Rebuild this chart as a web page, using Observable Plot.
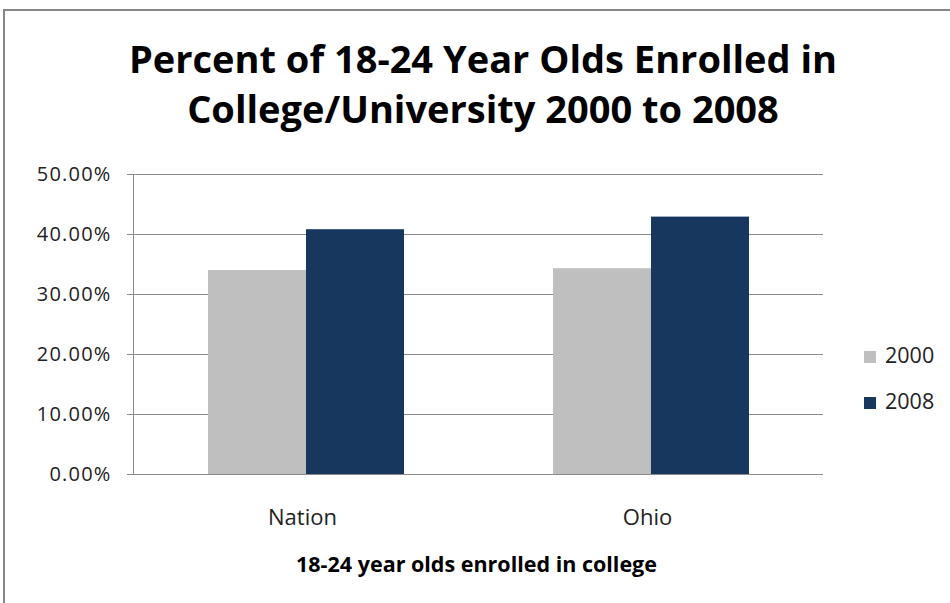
<!DOCTYPE html>
<html>
<head>
<meta charset="utf-8">
<script src="https://cdn.jsdelivr.net/npm/d3@7"></script>
<script src="https://cdn.jsdelivr.net/npm/@observablehq/plot@0.6"></script>
<style>
  html, body { margin: 0; padding: 0; background: #fff; }
  #wrap { position: relative; width: 950px; height: 603px; overflow: hidden; font-family: "Open Sans", Lato, sans-serif; }
  #border { position: absolute; left: 3px; top: 9px; width: 1000px; height: 700px; border: 2px solid #878787; box-sizing: border-box; }
  #title { position: absolute; left: 0; width: 966px; top: 33px; text-align: center; font-weight: bold; font-size: 38px; line-height: 50px; color: #000; }
  #chart { position: absolute; left: 0; top: 0; }
  .leg { position: absolute; left: 864px; font-size: 21.5px; color: #222; line-height: 22px; white-space: nowrap; }
  .leg span.sw { display: inline-block; width: 12px; height: 12px; margin-right: 9px; vertical-align: 0px; }
</style>
</head>
<body>
<div id="wrap">
  <div id="border"></div>
  <div id="chart"></div>
  <div id="title">Percent of 18-24 Year Olds Enrolled in<br>College/University 2000 to 2008</div>
  <div id="legend"></div>
</div>
<script>
const regions = ["Nation", "Ohio"];
const years = ["2000", "2008"];
const values2000 = [0.340, 0.343];
const values2008 = [0.408, 0.429];
const yTicks = [0, 0.1, 0.2, 0.3, 0.4, 0.5];
const colors = ["#BFBFBF", "#17375E"];
const xTitle = "18-24 year olds enrolled in college";

const rows2000 = regions.map((r, i) => ({region: r, year: years[0], value: values2000[i]}));
const rows2008 = regions.map((r, i) => ({region: r, year: years[1], value: values2008[i]}));

const W = 950, H = 603, ML = 133, MR = 127, MT = 174, MB = 129;
const pIn = 0.432, pOut = 0.216;
const step = (W - ML - MR) / (regions.length - pIn + 2 * pOut);
const half = step * (1 - pIn) / 2;

const chart = Plot.plot({
  width: W, height: H,
  marginLeft: ML, marginRight: MR, marginTop: MT, marginBottom: MB,
  style: {fontFamily: "'Open Sans', Lato, sans-serif", background: "transparent", color: "#222"},
  x: {domain: regions, paddingInner: pIn, paddingOuter: pOut, label: null},
  y: {domain: [0, 0.5], label: null},
  color: {domain: years, range: colors},
  marks: [
    Plot.ruleY(yTicks, {stroke: "#8a8a8a", strokeWidth: 1}),
    Plot.frame({anchor: "left", stroke: "#8a8a8a"}),
    Plot.barY(rows2000, {x: "region", y: "value", fill: "year", insetRight: half}),
    Plot.barY(rows2008, {x: "region", y: "value", fill: "year", insetLeft: half}),
    Plot.axisY({ticks: yTicks, tickFormat: d3.format(".2%"), tickSize: 6, tickPadding: 16, fontSize: 20, stroke: "#8a8a8a", label: null}),
    Plot.axisX({tickSize: 0, tickPadding: 35, fontSize: 22, dx: -4, label: null}),
    Plot.text([xTitle], {frameAnchor: "bottom", dy: 97, dx: -2, fontWeight: "bold", fontSize: 21.5, fill: "#000"})
  ]
});
d3.select(chart).selectAll("g[aria-label='y-axis tick label'] text").attr("letter-spacing", "1.2px").attr("fill", "#222");
document.getElementById("chart").appendChild(chart);

const legend = document.getElementById("legend");
const legTops = [344, 390];
years.forEach((y, i) => {
  const d = document.createElement("div");
  d.className = "leg";
  d.style.top = legTops[i] + "px";
  d.innerHTML = `<span class="sw" style="background:${colors[i]}"></span>${y}`;
  legend.appendChild(d);
});
</script>
</body>
</html>
